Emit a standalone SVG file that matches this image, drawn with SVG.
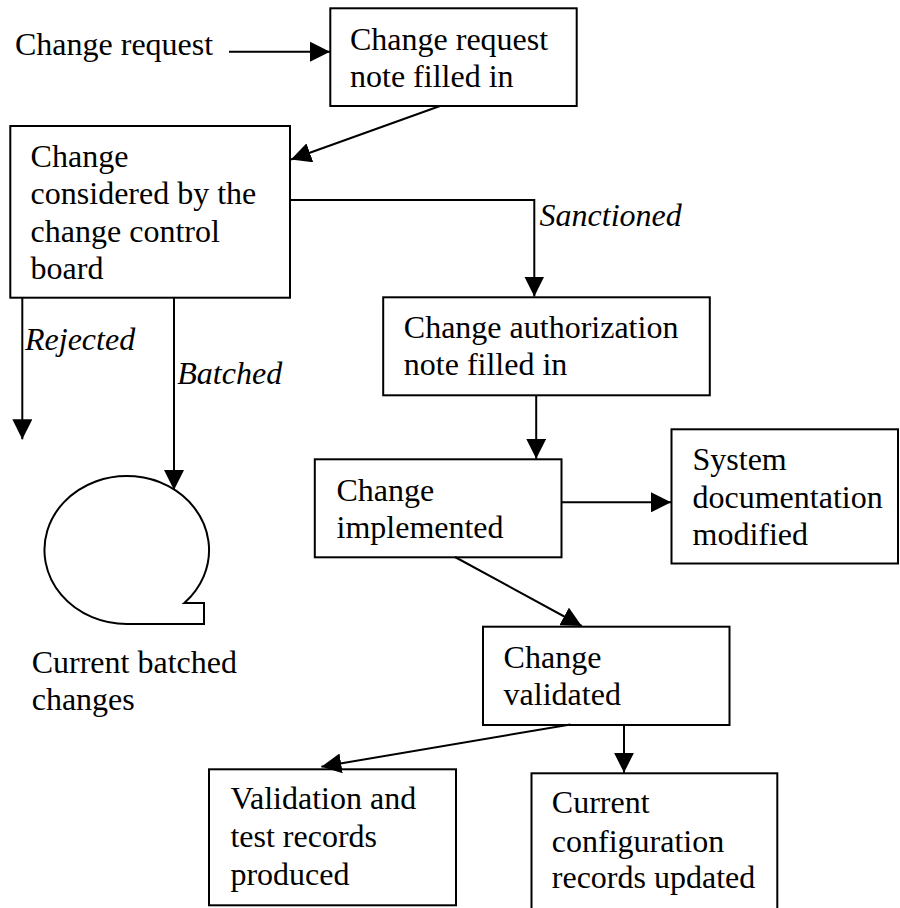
<svg xmlns="http://www.w3.org/2000/svg" width="900" height="908" viewBox="0 0 900 908">
  <style>
    .box { fill: #ffffff; stroke: #000000; stroke-width: 2; }
    .shape { fill: none; stroke: #000000; stroke-width: 2; }
    .wire { fill: none; stroke: #000000; stroke-width: 2; }
    .lbl { font-family: "Liberation Serif", "Times New Roman", serif; font-size: 32px; fill: #000000; }
    .it { font-style: italic; }
  </style>
  <defs>
    <marker id="ah" markerUnits="userSpaceOnUse" markerWidth="20" markerHeight="20" viewBox="0 0 20 20" refX="20" refY="10" orient="auto">
      <path d="M0,0 L20,10 L0,20 Z" fill="#000000"/>
    </marker>
  </defs>
  <rect width="900" height="908" fill="#ffffff"/>

  <!-- incoming request (free label) -->
  <g id="request">
    <text class="lbl" x="15" y="55">Change request</text>
  </g>

  <g id="note-filled">
    <rect class="box" x="330.3" y="8.3" width="246.4" height="97.7"/>
    <text class="lbl" x="350" y="49.5">Change request</text>
    <text class="lbl" x="350" y="86.5">note filled in</text>
  </g>

  <g id="ccb">
    <rect class="box" x="10.3" y="126" width="279.7" height="171.7"/>
    <text class="lbl" x="30.6" y="166.7">Change</text>
    <text class="lbl" x="30.6" y="204">considered by the</text>
    <text class="lbl" x="30.6" y="241.5">change control</text>
    <text class="lbl" x="30.6" y="278.5">board</text>
  </g>

  <g id="authorization">
    <rect class="box" x="383.2" y="297.3" width="326.6" height="98"/>
    <text class="lbl" x="403.8" y="338.3">Change authorization</text>
    <text class="lbl" x="403.8" y="375.3">note filled in</text>
  </g>

  <g id="implemented">
    <rect class="box" x="314.8" y="459.3" width="246.7" height="98"/>
    <text class="lbl" x="336.5" y="500.5">Change</text>
    <text class="lbl" x="336.5" y="538.3">implemented</text>
  </g>

  <g id="sysdoc">
    <rect class="box" x="671.5" y="429.3" width="226.5" height="134.2"/>
    <text class="lbl" x="692.5" y="470">System</text>
    <text class="lbl" x="692.5" y="507.5">documentation</text>
    <text class="lbl" x="692.5" y="545">modified</text>
  </g>

  <g id="validated">
    <rect class="box" x="483" y="626.7" width="246.5" height="98.3"/>
    <text class="lbl" x="503.6" y="668.3">Change</text>
    <text class="lbl" x="503.6" y="705.3">validated</text>
  </g>

  <g id="test-records">
    <rect class="box" x="209" y="769.3" width="247" height="136"/>
    <text class="lbl" x="230.4" y="809.3">Validation and</text>
    <text class="lbl" x="230.4" y="847.3">test records</text>
    <text class="lbl" x="230.4" y="885">produced</text>
  </g>

  <g id="config-records">
    <rect class="box" x="531.5" y="773.3" width="245.8" height="140"/>
    <text class="lbl" x="551.8" y="813.3">Current</text>
    <text class="lbl" x="551.8" y="851.5">configuration</text>
    <text class="lbl" x="551.8" y="888.3">records updated</text>
  </g>

  <!-- batch store: ellipse with a squared-off tail at lower right -->
  <g id="batch-store">
    <path class="shape" d="M126.7,624 A82.3,74 0 1 1 184.3,602.9 L204,602.9 L204,624 Z"/>
    <text class="lbl" x="31.7" y="672.7">Current batched</text>
    <text class="lbl" x="31.7" y="710">changes</text>
  </g>

  <g id="connectors">
    <line class="wire" x1="229" y1="51.7" x2="330" y2="51.7" marker-end="url(#ah)"/>
    <line class="wire" x1="440" y1="106" x2="291" y2="159.5" marker-end="url(#ah)"/>
    <polyline class="wire" points="290,200 534.3,200 534.3,296.5" marker-end="url(#ah)"/>
    <line class="wire" x1="22.3" y1="297.7" x2="22.3" y2="439.3" marker-end="url(#ah)"/>
    <line class="wire" x1="174" y1="297.7" x2="174" y2="490" marker-end="url(#ah)"/>
    <line class="wire" x1="536.2" y1="395.3" x2="536.2" y2="458.8" marker-end="url(#ah)"/>
    <line class="wire" x1="561.5" y1="502.3" x2="671" y2="502.3" marker-end="url(#ah)"/>
    <line class="wire" x1="455" y1="557" x2="581.7" y2="626" marker-end="url(#ah)"/>
    <line class="wire" x1="570.5" y1="724.5" x2="321.4" y2="766.7" marker-end="url(#ah)"/>
    <line class="wire" x1="624" y1="725" x2="624" y2="772.8" marker-end="url(#ah)"/>
    <text class="lbl it" x="539.6" y="226">Sanctioned</text>
    <text class="lbl it" x="25" y="350">Rejected</text>
    <text class="lbl it" x="177.3" y="384">Batched</text>
  </g>
</svg>
